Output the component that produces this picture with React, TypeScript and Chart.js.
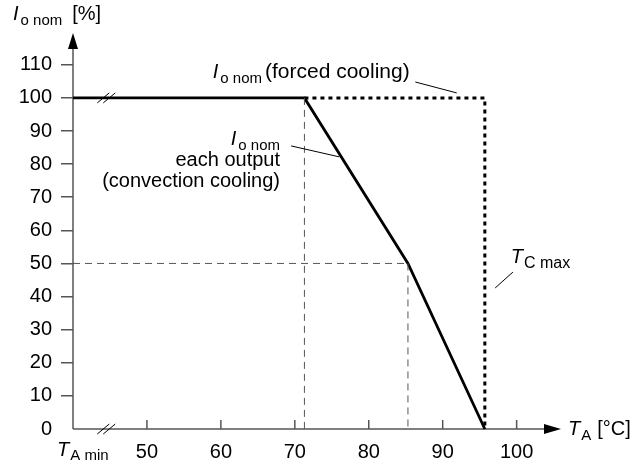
import React, { useEffect, useRef } from 'react';
import { Chart, registerables } from 'chart.js';

Chart.register(...registerables);

// ---- data (°C, %) ----
const convectionTemp = [40, 71.3, 85.3, 95.7];
const convectionLoad = [100, 100, 50, 0];
const forcedTemp = [71.3, 95.7, 95.7];
const forcedLoad = [100, 100, 0];
const guideKneeTemp = [71.3, 71.3];
const guideKneeLoad = [100, 0];
const guideHalfTemp = [40, 85.3];
const guideHalfLoad = [50, 50];
const guideHalfDropTemp = [85.3, 85.3];
const guideHalfDropLoad = [50, 0];
const xTickValues = [50, 60, 70, 80, 90, 100];
const yTickValues = [0, 10, 20, 30, 40, 50, 60, 70, 80, 90, 100, 110];
const xMin = 40;
const xMax = 106;
const yMin = 0;
const yMax = 119.6;
const breakTemp = 44.5;

const FONT = '"Liberation Sans", Arial, Helvetica, sans-serif';
const AXIS = '#555';
const MAIN = 20;
const SUB = 15;

const pts = (xs: number[], ys: number[]) => xs.map((x, i) => ({ x, y: ys[i] }));

type Part = { t: string; size: number; italic?: boolean; dy?: number; gap?: number };

function drawParts(ctx: CanvasRenderingContext2D, x: number, y: number, parts: Part[], align: 'left' | 'right' = 'left') {
  const widths = parts.map((p) => {
    ctx.font = `${p.italic ? 'italic ' : ''}${p.size}px ${FONT}`;
    return ctx.measureText(p.t).width;
  });
  const total = widths.reduce((a, w, i) => a + w + (parts[i].gap || 0), 0);
  let cx = align === 'right' ? x - total : x;
  ctx.textAlign = 'left';
  ctx.textBaseline = 'alphabetic';
  ctx.fillStyle = '#000';
  parts.forEach((p, i) => {
    cx += p.gap || 0;
    ctx.font = `${p.italic ? 'italic ' : ''}${p.size}px ${FONT}`;
    ctx.fillText(p.t, cx, y + (p.dy || 0));
    cx += widths[i];
  });
}

const decorPlugin = {
  id: 'decor',
  beforeDatasetsDraw(chart: any) {
    const ctx: CanvasRenderingContext2D = chart.ctx;
    const xs = chart.scales.x;
    const ys = chart.scales.y;
    const left = xs.getPixelForValue(xMin);
    const right = xs.getPixelForValue(xMax);
    const bottom = ys.getPixelForValue(yMin);
    const top = ys.getPixelForValue(yMax);
    ctx.save();
    ctx.strokeStyle = AXIS;
    ctx.lineWidth = 1.5;
    ctx.beginPath();
    ctx.moveTo(left, bottom);
    ctx.lineTo(left, top + 12);
    ctx.stroke();
    ctx.beginPath();
    ctx.moveTo(left, bottom);
    ctx.lineTo(right - 12, bottom);
    ctx.stroke();
    xTickValues.forEach((v) => {
      const px = xs.getPixelForValue(v);
      ctx.beginPath();
      ctx.moveTo(px, bottom);
      ctx.lineTo(px, bottom - 9);
      ctx.stroke();
    });
    ctx.fillStyle = '#000';
    ctx.beginPath();
    ctx.moveTo(left, top);
    ctx.lineTo(left - 5, top + 16);
    ctx.lineTo(left + 5, top + 16);
    ctx.closePath();
    ctx.fill();
    ctx.beginPath();
    ctx.moveTo(right, bottom);
    ctx.lineTo(right - 17, bottom - 5);
    ctx.lineTo(right - 17, bottom + 5);
    ctx.closePath();
    ctx.fill();
    ctx.restore();
  },
  afterDraw(chart: any) {
    const ctx: CanvasRenderingContext2D = chart.ctx;
    const xs = chart.scales.x;
    const ys = chart.scales.y;
    const X = (v: number) => xs.getPixelForValue(v);
    const Y = (v: number) => ys.getPixelForValue(v);
    ctx.save();
    const drawBreak = (px: number, py: number, color: string) => {
      ctx.strokeStyle = color;
      ctx.lineWidth = 1;
      [-3, 3].forEach((o) => {
        ctx.beginPath();
        ctx.moveTo(px + o - 6, py + 5);
        ctx.lineTo(px + o + 6, py - 5);
        ctx.stroke();
      });
    };
    drawBreak(X(breakTemp), Y(100), '#000');
    drawBreak(X(breakTemp), Y(0), '#000');

    ctx.strokeStyle = '#000';
    ctx.lineWidth = 1;
    const leader = (x1: number, y1: number, x2: number, y2: number) => {
      ctx.beginPath();
      ctx.moveTo(X(x1), Y(y1));
      ctx.lineTo(X(x2), Y(y2));
      ctx.stroke();
    };
    leader(86.3, 104.8, 91.9, 101.5);
    leader(69.5, 85.5, 76.0, 82.2);
    leader(97.1, 42.6, 99.5, 47.4);

    const left = X(xMin);
    const bottom = Y(0);
    const top = Y(yMax);
    drawParts(ctx, left - 60, top - 13, [
      { t: 'I', size: MAIN, italic: true },
      { t: 'o nom', size: SUB, dy: 5, gap: 2 },
      { t: '[%]', size: MAIN, gap: 10 },
    ]);
    drawParts(ctx, X(58.9), Y(106), [
      { t: 'I', size: MAIN, italic: true },
      { t: 'o nom', size: SUB, dy: 5, gap: 2 },
      { t: '(forced cooling)', size: 21, gap: 3 },
    ]);
    drawParts(ctx, X(68.0), Y(85.8), [
      { t: 'I', size: MAIN, italic: true },
      { t: 'o nom', size: SUB, dy: 5, gap: 2 },
    ], 'right');
    drawParts(ctx, X(68.0), Y(79.5), [{ t: 'each output', size: MAIN }], 'right');
    drawParts(ctx, X(68.0), Y(73.1), [{ t: '(convection cooling)', size: MAIN }], 'right');
    drawParts(ctx, X(99.2), Y(50.2), [
      { t: 'T', size: MAIN, italic: true },
      { t: 'C max', size: 16, dy: 5, gap: 1 },
    ]);
    drawParts(ctx, X(xMax) + 7, bottom + 6, [
      { t: 'T', size: MAIN, italic: true },
      { t: 'A', size: SUB, dy: 5, gap: 1 },
      { t: '[°C]', size: MAIN, gap: 6 },
    ]);
    drawParts(ctx, left - 16, bottom + 27, [
      { t: 'T', size: MAIN, italic: true },
      { t: 'A min', size: SUB, dy: 4, gap: 1 },
    ]);
    ctx.restore();
  },
};

export default function App() {
  const ref = useRef<HTMLCanvasElement>(null);
  useEffect(() => {
    if (!ref.current) return;
    const lineDs = (data: any, color: string, width: number, dash: number[] = []) => ({
      data,
      borderColor: color,
      backgroundColor: color,
      borderWidth: width,
      borderDash: dash,
      pointRadius: 0,
      fill: false,
      tension: 0,
      clip: false as any,
    });
    const chart = new Chart(ref.current, {
      type: 'line',
      data: {
        datasets: [
          lineDs(pts(guideKneeTemp, guideKneeLoad), '#555', 1, [7, 5]),
          lineDs(pts(guideHalfTemp, guideHalfLoad), '#555', 1, [7, 5]),
          lineDs(pts(guideHalfDropTemp, guideHalfDropLoad), '#555', 1, [7, 5]),
          lineDs(pts(forcedTemp, forcedLoad), '#000', 3, [4, 4]),
          lineDs(pts(convectionTemp, convectionLoad), '#000', 2.8),
        ],
      },
      plugins: [decorPlugin],
      options: {
        animation: false,
        responsive: false,
        events: [],
        layout: { padding: { left: 0, top: 33, right: 81, bottom: 0 } },
        plugins: { legend: { display: false }, tooltip: { enabled: false }, title: { display: false } },
        scales: {
          x: {
            type: 'linear',
            min: xMin,
            max: xMax,
            afterBuildTicks: (s: any) => {
              s.ticks = xTickValues.map((value) => ({ value }));
            },
            afterFit: (s: any) => {
              s.height = 31;
            },
            grid: { display: false },
            border: { display: false },
            ticks: { color: '#000', font: { family: FONT, size: MAIN }, padding: 3, maxRotation: 0 },
          },
          y: {
            type: 'linear',
            min: yMin,
            max: yMax,
            afterBuildTicks: (s: any) => {
              s.ticks = yTickValues.map((value) => ({ value }));
            },
            afterFit: (s: any) => {
              s.width = 73;
            },
            grid: {
              display: true,
              drawOnChartArea: false,
              drawTicks: true,
              tickLength: 12,
              lineWidth: 1.5,
              color: (c: any) => (c.tick && c.tick.value === 0 ? 'rgba(0,0,0,0)' : AXIS),
            },
            border: { display: false },
            ticks: { color: '#000', font: { family: FONT, size: MAIN }, padding: 9 },
          },
        },
      },
    });
    return () => chart.destroy();
  }, []);
  return (
    <div style={{ position: 'fixed', left: 0, top: 0, width: 642, height: 460, background: '#fff' }}>
      <canvas ref={ref} width={642} height={460} style={{ display: 'block' }} />
    </div>
  );
}
